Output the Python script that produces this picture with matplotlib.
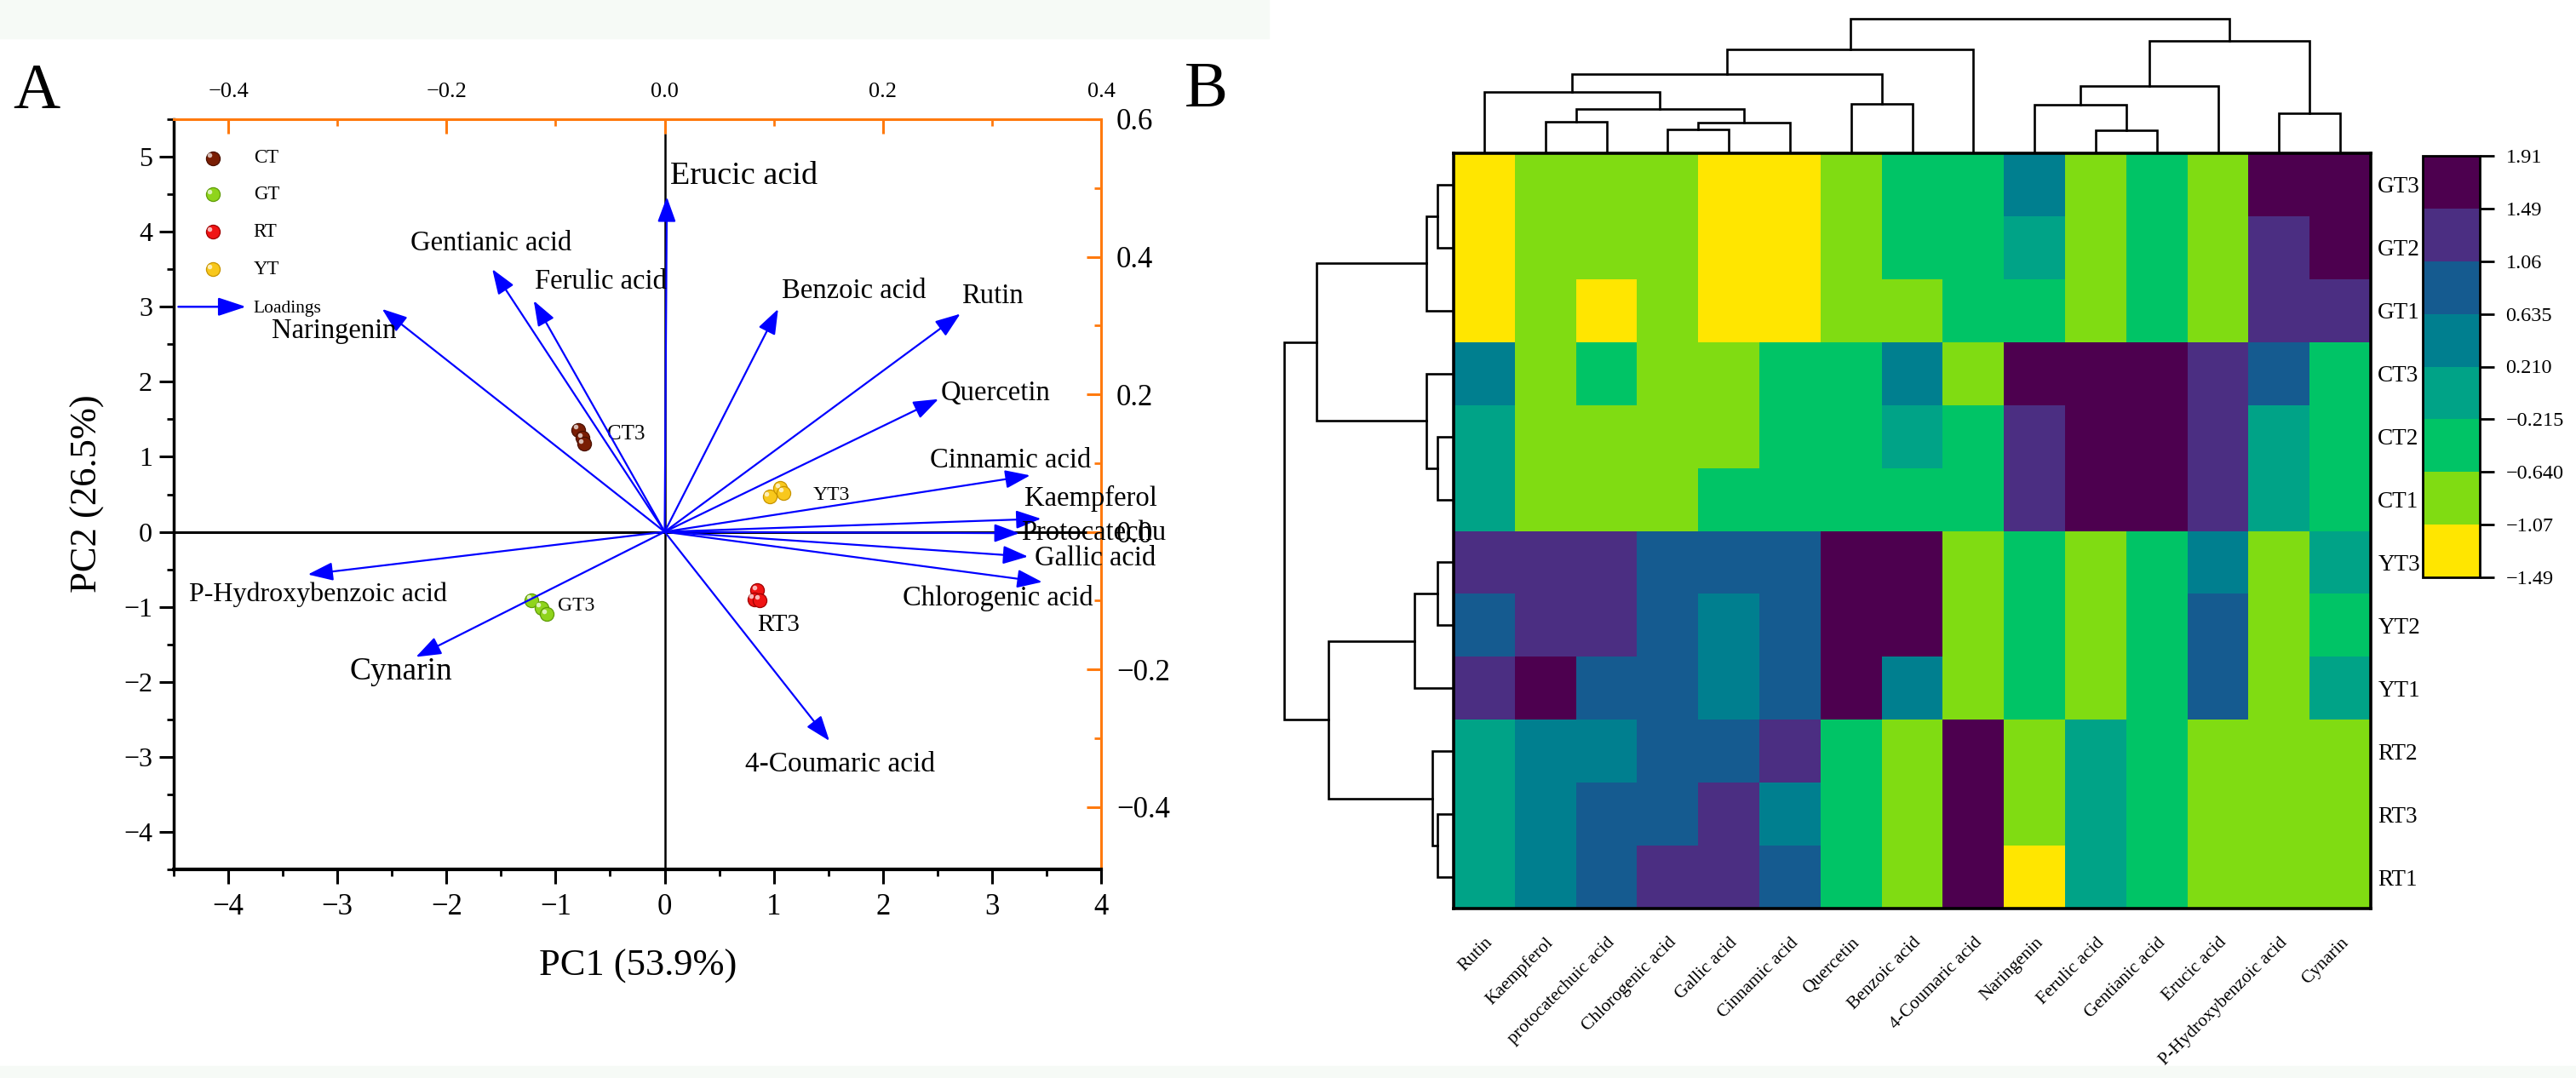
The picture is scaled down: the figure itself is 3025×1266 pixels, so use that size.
import matplotlib
matplotlib.use("Agg")
import matplotlib.pyplot as plt
import numpy as np
from matplotlib.colors import ListedColormap, BoundaryNorm
from matplotlib.patches import Rectangle
from matplotlib.ticker import MultipleLocator
from matplotlib.transforms import ScaledTranslation

plt.rcParams["font.family"] = ["Liberation Serif", "DejaVu Serif"]

W, H = 3025, 1266

# ---------------- data: PCA biplot ----------------
groups = ["CT", "GT", "RT", "YT"]
group_colors = ["#7a1e04", "#8fd41c", "#f01414", "#f8c81c"]
group_edges = ["#4a1000", "#5f9c08", "#a00000", "#c89400"]
ct_scores = [[-0.79, 1.36], [-0.75, 1.25], [-0.74, 1.17]]
gt_scores = [[-1.22, -0.91], [-1.13, -1.01], [-1.08, -1.10]]
rt_scores = [[0.85, -0.78], [0.82, -0.90], [0.87, -0.91]]
yt_scores = [[0.96, 0.47], [1.06, 0.58], [1.09, 0.52]]
score_sets = [ct_scores, gt_scores, rt_scores, yt_scores]
score_labels = ["CT3", "GT3", "RT3", "YT3"]

compounds = ["Erucic acid", "Gentianic acid", "Ferulic acid", "Naringenin",
             "Benzoic acid", "Rutin", "Quercetin", "Cinnamic acid", "Kaempferol",
             "Protocatechu", "Gallic acid", "Chlorogenic acid", "4-Coumaric acid",
             "P-Hydroxybenzoic acid", "Cynarin"]
load_pc1 = [0.002, -0.158, -0.120, -0.259, 0.104, 0.271, 0.251, 0.335, 0.345,
            0.325, 0.333, 0.346, 0.151, -0.327, -0.228]
load_pc2 = [0.487, 0.382, 0.336, 0.324, 0.324, 0.317, 0.193, 0.082, 0.019,
            -0.002, -0.036, -0.073, -0.304, -0.062, -0.182]

# label placement (layout only, loading-axis units) and sizes
label_pos = [(0.005, 0.517), (-0.233, 0.420), (-0.119, 0.364), (-0.360, 0.292),
             (0.107, 0.350), (0.272, 0.343), (0.253, 0.201), (0.243, 0.104),
             (0.330, 0.048), (0.327, -0.002), (0.339, -0.039), (0.218, -0.097),
             (0.074, -0.338), (-0.436, -0.091), (-0.289, -0.203)]
label_size = [27.5, 23.5, 23.5, 23.5, 23.5, 23.5, 23.5, 23.5, 23.5, 23.5, 23.5,
              23.5, 24, 23, 27]
score_label_pos = [(-0.53, 1.30), (-0.98, -0.99), (0.85, -1.24), (1.36, 0.49)]
score_label_size = [18, 17, 21, 17]

# ---------------- data: heatmap ----------------
cols = ["Rutin", "Kaempferol", "protocatechuic acid", "Chlorogenic acid",
        "Gallic acid", "Cinnamic acid", "Quercetin", "Benzoic acid",
        "4-Coumaric acid", "Naringenin", "Ferulic acid", "Gentianic acid",
        "Erucic acid", "P-Hydroxybenzoic acid", "Cynarin"]
rows = ["GT3", "GT2", "GT1", "CT3", "CT2", "CT1", "YT3", "YT2", "YT1",
        "RT2", "RT3", "RT1"]
z = np.array([
    [-1.30, -0.86, -0.86, -0.86, -1.30, -1.30, -0.86, -0.43, -0.43, 0.42, -0.86, -0.43, -0.86, 1.70, 1.70],
    [-1.30, -0.86, -0.86, -0.86, -1.30, -1.30, -0.86, -0.43, -0.43, 0.00, -0.86, -0.43, -0.86, 1.27, 1.70],
    [-1.30, -0.86, -1.30, -0.86, -1.30, -1.30, -0.86, -0.86, -0.43, -0.43, -0.86, -0.43, -0.86, 1.27, 1.27],
    [0.42, -0.86, -0.43, -0.86, -0.86, -0.43, -0.43, 0.42, -0.86, 1.70, 1.70, 1.70, 1.27, 0.85, -0.43],
    [0.00, -0.86, -0.86, -0.86, -0.86, -0.43, -0.43, 0.00, -0.43, 1.27, 1.70, 1.70, 1.27, 0.00, -0.43],
    [0.00, -0.86, -0.86, -0.86, -0.43, -0.43, -0.43, -0.43, -0.43, 1.27, 1.70, 1.70, 1.27, 0.00, -0.43],
    [1.27, 1.27, 1.27, 0.85, 0.85, 0.85, 1.70, 1.70, -0.86, -0.43, -0.86, -0.43, 0.42, -0.86, 0.00],
    [0.85, 1.27, 1.27, 0.85, 0.42, 0.85, 1.70, 1.70, -0.86, -0.43, -0.86, -0.43, 0.85, -0.86, -0.43],
    [1.27, 1.70, 0.85, 0.85, 0.42, 0.85, 1.70, 0.42, -0.86, -0.43, -0.86, -0.43, 0.85, -0.86, 0.00],
    [0.00, 0.42, 0.42, 0.85, 0.85, 1.27, -0.43, -0.86, 1.70, -0.86, 0.00, -0.43, -0.86, -0.86, -0.86],
    [0.00, 0.42, 0.85, 0.85, 1.27, 0.42, -0.43, -0.86, 1.70, -0.86, 0.00, -0.43, -0.86, -0.86, -0.86],
    [0.00, 0.42, 0.85, 1.27, 1.27, 0.85, -0.43, -0.86, 1.70, -1.30, 0.00, -0.43, -0.86, -0.86, -0.86],
])
bounds = [-1.49, -1.07, -0.640, -0.215, 0.210, 0.635, 1.06, 1.49, 1.91]
bound_labels = ["\u22121.49", "\u22121.07", "\u22120.640", "\u22120.215", "0.210",
                "0.635", "1.06", "1.49", "1.91"]
level_colors = ["#ffe600", "#80dc12", "#00c466", "#00a387", "#007f8f",
                "#155b90", "#4b2e82", "#4d004f"]

# hierarchical merges: (child a, child b, height); new node ids follow leaves
col_links = [(1, 2, 3.67), (3, 4, 2.83), (16, 5, 3.57), (15, 17, 5.17),
             (0, 18, 7.17), (6, 7, 5.83), (19, 20, 9.27), (21, 8, 12.17),
             (10, 11, 2.73), (9, 23, 5.67), (24, 12, 7.9), (13, 14, 4.67),
             (25, 26, 13.17), (22, 27, 15.83)]
row_links = [(0, 1, 1.95), (12, 2, 3.2), (4, 5, 1.95), (3, 14, 3.2),
             (13, 15, 16.1), (6, 7, 1.95), (17, 8, 4.65), (10, 11, 1.95),
             (9, 19, 2.5), (18, 20, 14.7), (16, 21, 19.9)]


def rect(x0, y0, x1, y1):
    return [x0 / W, 1 - y1 / H, (x1 - x0) / W, (y1 - y0) / H]


fig = plt.figure(figsize=(W / 100, H / 100), dpi=100)
fig.patch.set_facecolor("white")
fig.patches.append(Rectangle((0, 1 - 45 / H), 1490 / W, 45 / H,
                             transform=fig.transFigure, color="#f6faf6", zorder=-1))
fig.patches.append(Rectangle((0, 0), 1, 14 / H, transform=fig.transFigure,
                             color="#f6faf6", zorder=-1))

orange = "#ff7a0e"

# ---------------- panel A ----------------
ax = fig.add_axes(rect(204, 140, 1293, 1021))
ax.set_xlim(-4.5, 4)
ax.set_ylim(-4.5, 5.5)
ax.set_xticks(range(-4, 5))
ax.set_yticks(range(-4, 6))
ax.xaxis.set_minor_locator(MultipleLocator(0.5))
ax.yaxis.set_minor_locator(MultipleLocator(0.5))
ax.tick_params(which="major", direction="out", length=12, width=2.2, labelsize=23)
ax.tick_params(which="minor", direction="out", length=6, width=2)
ax.tick_params(axis="x", labelsize=25, pad=8)
ax.tick_params(axis="y", pad=6)
ax.spines["left"].set_linewidth(2.5)
ax.spines["bottom"].set_linewidth(3)
for s in ["top", "right"]:
    ax.spines[s].set_color(orange)
    ax.spines[s].set_linewidth(2.2)
ax.axhline(0, color="black", lw=2.2, zorder=1)
ax.axvline(0, ymax=(5.3 + 4.5) / 10, color="black", lw=1.8, zorder=1)

tr_hi = ScaledTranslation(-2.5 / 72, 2.5 / 72, fig.dpi_scale_trans)


def balls(x, y, color, edge, transform):
    ax.scatter(x, y, s=135, c=color, edgecolors=edge, linewidths=0.9,
               transform=transform, zorder=4)
    ax.scatter(x, y, s=16, c="white", alpha=0.7, linewidths=0,
               transform=transform + tr_hi, zorder=5)


for pts, col, edg, lab, lp, ls in zip(score_sets, group_colors, group_edges,
                                      score_labels, score_label_pos, score_label_size):
    pts = np.array(pts)
    balls(pts[:, 0], pts[:, 1], col, edg, ax.transData)
    ax.text(lp[0], lp[1], lab, fontsize=ls, ha="left", va="center", zorder=6)

# legend drawn by hand
leg_y = [0.948, 0.900, 0.850, 0.800]
for g, col, edg, yy in zip(groups, group_colors, group_edges, leg_y):
    balls([0.042], [yy], col, edg, ax.transAxes)
    ax.text(0.086, yy, g, transform=ax.transAxes, fontsize=16.5, va="center")
ax.annotate("", xy=(0.078, 0.750), xytext=(0.005, 0.750), xycoords="axes fraction",
            arrowprops=dict(arrowstyle="-|>,head_length=1.0,head_width=0.33",
                            color="#0000ff", lw=1.8, shrinkA=0, shrinkB=0,
                            mutation_scale=20))
ax.text(0.086, 0.747, "Loadings", transform=ax.transAxes, fontsize=15.5, va="center")

# loadings axis (top / right)
ax2 = fig.add_axes(rect(204, 140, 1293, 1021), frameon=False)
ax2.patch.set_alpha(0)
ax2.set_xlim(-0.45, 0.4)
ax2.set_ylim(-0.6 * 4.5 / 5.5, 0.6)
ax2.xaxis.set_ticks_position("top")
ax2.yaxis.set_ticks_position("right")
ax2.xaxis.set_label_position("top")
ax2.set_xticks([-0.4, -0.2, 0.0, 0.2, 0.4])
ax2.set_yticks([-0.4, -0.2, 0.0, 0.2, 0.4, 0.6])
ax2.xaxis.set_minor_locator(MultipleLocator(0.1))
ax2.yaxis.set_minor_locator(MultipleLocator(0.1))
ax2.tick_params(which="major", direction="in", length=12, width=2.2, color=orange)
ax2.tick_params(which="minor", direction="in", length=6, width=2, color=orange)
ax2.tick_params(axis="x", labelsize=19, pad=15)
ax2.tick_params(axis="y", labelsize=25, pad=13)

for name, lx, ly, pos, fs in zip(compounds, load_pc1, load_pc2, label_pos, label_size):
    ax2.annotate("", xy=(lx, ly), xytext=(0, 0),
                 arrowprops=dict(arrowstyle="-|>,head_length=0.9,head_width=0.33",
                                 color="#0000ff", lw=1.6, shrinkA=0, shrinkB=0,
                                 mutation_scale=20))
    ax2.text(pos[0], pos[1], name, fontsize=fs, ha="left", va="center")

fig.text(103 / W, 1 - 580 / H, "PC2 (26.5%)", rotation=90, fontsize=32,
         ha="center", va="center")
fig.text(749 / W, 1 - 1135 / H, "PC1 (53.9%)", fontsize=32, ha="center", va="center")
fig.text(15 / W, 1 - 127 / H, "A", fontsize=55, ha="left", va="baseline")
fig.text(1391 / W, 1 - 125 / H, "B", fontsize=55, ha="left", va="baseline")

# ---------------- panel B ----------------
cmap = ListedColormap(level_colors)
norm = BoundaryNorm(bounds, cmap.N)

axh = fig.add_axes(rect(1707, 180, 2784, 1067))
mesh = axh.pcolormesh(np.arange(len(cols) + 1), np.arange(len(rows) + 1), z,
                      cmap=cmap, norm=norm)
axh.set_xlim(0, len(cols))
axh.set_ylim(len(rows), 0)
for s in axh.spines.values():
    s.set_linewidth(2.6)
axh.yaxis.tick_right()
axh.set_yticks(np.arange(len(rows)) + 0.5)
axh.set_yticklabels(rows)
axh.set_xticks(np.arange(len(cols)) + 0.5)
axh.set_xticklabels(cols, rotation=45, ha="right", va="top")
axh.tick_params(axis="both", length=0)
axh.tick_params(axis="y", labelsize=19.5, pad=6)
axh.tick_params(axis="x", labelsize=15.5, pad=22)
shift = ScaledTranslation(14 / 100, 0, fig.dpi_scale_trans)
for t in axh.get_xticklabels():
    t.set_transform(t.get_transform() + shift)


def dendro(axd, links, n, top):
    pos = {i: i + 0.5 for i in range(n)}
    hgt = {i: 0.0 for i in range(n)}
    for k, (a, b, h) in enumerate(links):
        xs = [pos[a], pos[a], pos[b], pos[b]]
        ys = [hgt[a], h, h, hgt[b]]
        if top:
            axd.plot(xs, ys, color="black", lw=1.9, solid_joinstyle="miter")
        else:
            axd.plot(ys, xs, color="black", lw=1.9, solid_joinstyle="miter")
        pos[n + k] = (pos[a] + pos[b]) / 2
        hgt[n + k] = h


axc = fig.add_axes(rect(1707, 15, 2784, 180))
dendro(axc, col_links, len(cols), True)
axc.set_xlim(0, len(cols))
axc.set_ylim(0, 16.5)
axc.axis("off")

axr = fig.add_axes(rect(1500, 180, 1707, 1067))
dendro(axr, row_links, len(rows), False)
axr.set_xlim(20.7, 0)
axr.set_ylim(len(rows), 0)
axr.axis("off")

cax = fig.add_axes(rect(2845, 183, 2912, 678))
cb = fig.colorbar(mesh, cax=cax, boundaries=bounds, ticks=bounds, spacing="uniform")
cb.set_ticklabels(bound_labels)
cb.outline.set_linewidth(2)
cax.tick_params(length=12, width=2, labelsize=17.5, pad=10)

fig.savefig("out.png", dpi=100)
